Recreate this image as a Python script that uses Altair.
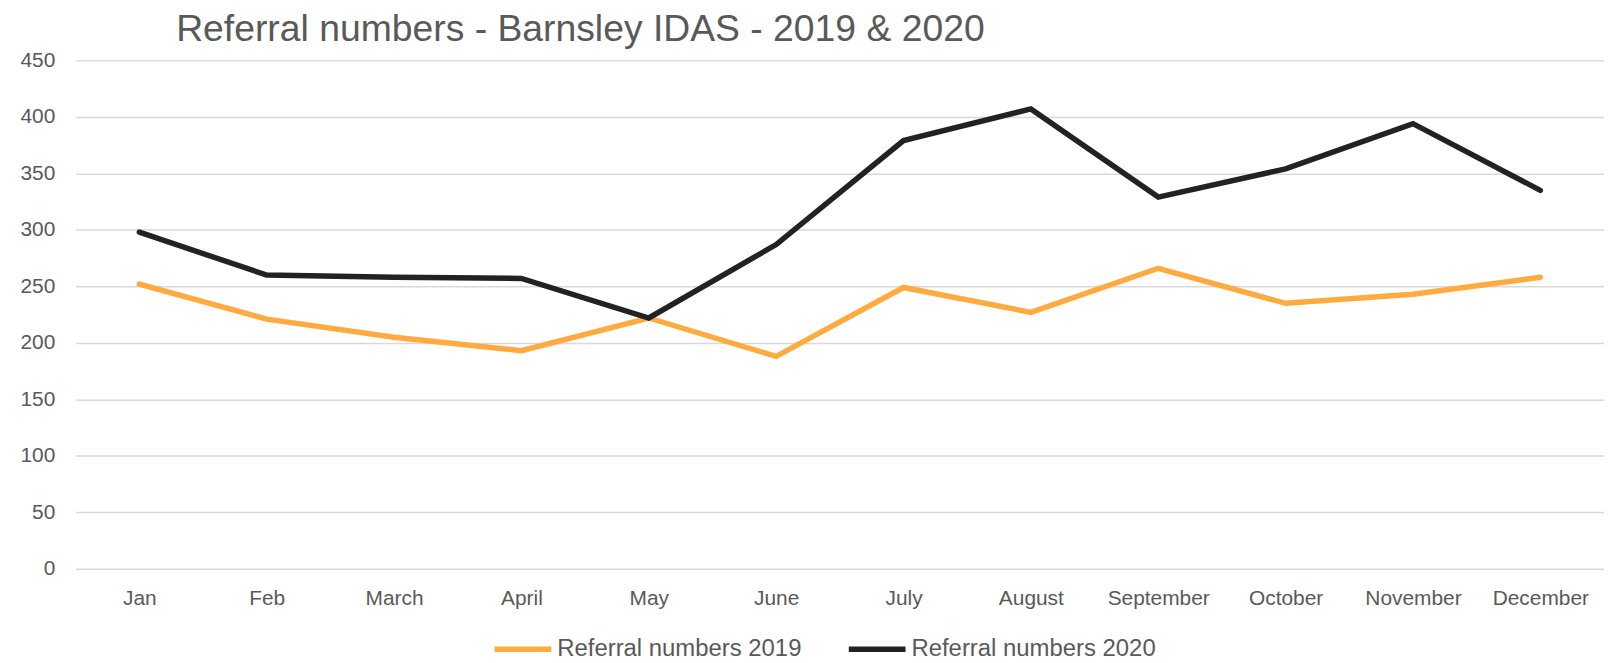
import altair as alt
import pandas as pd

months = ["Jan", "Feb", "March", "April", "May", "June", "July", "August",
          "September", "October", "November", "December"]
ref_2019 = [252, 221, 205, 193, 222, 188, 249, 227, 266, 235, 243, 258]
ref_2020 = [298, 260, 258, 257, 222, 287, 379, 407, 329, 354, 394, 335]
series_names = ["Referral numbers 2019", "Referral numbers 2020"]
series_colors = ["#ffab40", "#222222"]
y_ticks = [0, 50, 100, 150, 200, 250, 300, 350, 400, 450]

rows = []
for name, vals in zip(series_names, [ref_2019, ref_2020]):
    for m, v in zip(months, vals):
        rows.append({"Month": m, "Value": v, "Series": name})
df = pd.DataFrame(rows)

FONT = "Liberation Sans"
TXT = "#595959"

chart = alt.Chart(df).mark_line(strokeWidth=5.5, strokeCap="round", strokeJoin="miter").encode(
    x=alt.X("Month:N", sort=months, title=None,
            scale=alt.Scale(paddingInner=0, paddingOuter=0.5),
            axis=alt.Axis(labelAngle=0, domain=False, ticks=False, grid=False,
                          labelFont=FONT, labelFontSize=21, labelColor=TXT,
                          labelPadding=19)),
    y=alt.Y("Value:Q", title=None,
            scale=alt.Scale(domain=[0, 450], nice=False),
            axis=alt.Axis(values=y_ticks, domain=False, ticks=False,
                          gridColor="#d9d9d9", gridWidth=1.5,
                          labelFont=FONT, labelFontSize=21, labelColor=TXT,
                          labelPadding=21)),
    color=alt.Color("Series:N", sort=series_names,
                    scale=alt.Scale(domain=series_names, range=series_colors),
                    legend=alt.Legend(title=None, orient="none", direction="horizontal",
                                      legendX=418, legendY=560,
                                      symbolType="stroke", symbolSize=3249,
                                      symbolStrokeWidth=5.5, labelOffset=3,
                                      columnPadding=36, labelLimit=0,
                                      labelFont=FONT, labelFontSize=24, labelColor=TXT)),
).properties(
    width=1536, height=511,
    title=alt.TitleParams("Referral numbers - Barnsley IDAS - 2019 & 2020",
                          anchor="start", frame="group", dx=101, offset=1, font=FONT,
                          fontSize=37.5, fontWeight="normal", color=TXT),
    padding={"left": 68, "top": 51, "right": 0, "bottom": 93},
    autosize=alt.AutoSizeParams(type="none"),
).configure_view(stroke=None)

chart.save("out.html", embed_options={"renderer": "svg", "actions": False})
